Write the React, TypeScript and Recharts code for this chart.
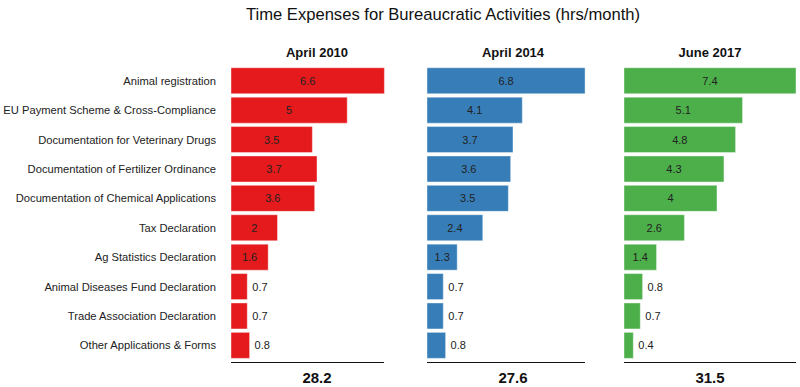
import React from 'react';
import { Bar, BarChart, LabelList, XAxis, YAxis } from 'recharts';

const categories = [
  'Animal registration',
  'EU Payment Scheme & Cross-Compliance',
  'Documentation for Veterinary Drugs',
  'Documentation of Fertilizer Ordinance',
  'Documentation of Chemical Applications',
  'Tax Declaration',
  'Ag Statistics Declaration',
  'Animal Diseases Fund Declaration',
  'Trade Association Declaration',
  'Other Applications & Forms'
];

const april2010 = [6.6, 5, 3.5, 3.7, 3.6, 2, 1.6, 0.7, 0.7, 0.8];
const april2014 = [6.8, 4.1, 3.7, 3.6, 3.5, 2.4, 1.3, 0.7, 0.7, 0.8];
const june2017 = [7.4, 5.1, 4.8, 4.3, 4, 2.6, 1.4, 0.8, 0.7, 0.4];

const panelTitles = ['April 2010', 'April 2014', 'June 2017'];
const panelSeries = [april2010, april2014, june2017];
const panelColors = ['#e41a1c', '#377eb8', '#4daf4a'];

const FONT = '"Liberation Sans", Arial, Helvetica, sans-serif';
const X_MAX = 7.4;
const PANEL_W = 172;
const LABEL_W = 231;
const PANEL_LEFT = [231, 427, 624];
const PLOT_TOP = 66;
const PLOT_H = 294;

function ValueLabel(props: any) {
  const { x, y, width, height, value } = props;
  const inside = value >= 1;
  return (
    <text
      x={inside ? x + width / 2 : x + width + 5}
      y={y + height / 2}
      textAnchor={inside ? 'middle' : 'start'}
      dominantBaseline="central"
      fontSize={11}
      fontFamily={FONT}
      fill="#222"
    >
      {value}
    </text>
  );
}

// plain text tick so long names stay on one line
function CategoryTick(props: any) {
  const { x, y, payload } = props;
  return (
    <text x={x} y={y} textAnchor="end" dominantBaseline="central" fontSize={11.2} fontFamily={FONT} fill="#222">
      {payload.value}
    </text>
  );
}

function Panel({ index }: { index: number }) {
  const values = panelSeries[index];
  const data = categories.map((category, i) => ({ category, value: values[i] }));
  const first = index === 0;
  const total = values.reduce((a, b) => a + b, 0);
  const max = Math.max(...values);
  const left = PANEL_LEFT[index];

  return (
    <>
      <div
        style={{
          position: 'absolute',
          left,
          width: PANEL_W,
          top: 45,
          textAlign: 'center',
          fontWeight: 'bold',
          fontSize: 13,
          color: '#111'
        }}
      >
        {panelTitles[index]}
      </div>
      <div style={{ position: 'absolute', left: first ? 0 : left, top: PLOT_TOP }}>
        <BarChart
          width={(first ? LABEL_W : 0) + PANEL_W}
          height={PLOT_H}
          data={data}
          layout="vertical"
          margin={{ top: 0, right: 0, bottom: 0, left: 0 }}
          barCategoryGap="6%"
        >
          <XAxis type="number" domain={[0, X_MAX]} hide />
          <YAxis
            type="category"
            dataKey="category"
            hide={!first}
            width={LABEL_W}
            axisLine={false}
            tickLine={false}
            tickSize={0}
            tickMargin={15}
            interval={0}
            tick={<CategoryTick />}
          />
          <Bar dataKey="value" fill={panelColors[index]} stroke="#ffffff" strokeOpacity={0.4} isAnimationActive={false}>
            <LabelList dataKey="value" content={ValueLabel} />
          </Bar>
        </BarChart>
      </div>
      <div
        style={{
          position: 'absolute',
          left,
          top: 362,
          width: (max / X_MAX) * PANEL_W,
          borderTop: '1.5px solid #111'
        }}
      />
      <div
        style={{
          position: 'absolute',
          left,
          width: PANEL_W,
          top: 369,
          textAlign: 'center',
          fontWeight: 'bold',
          fontSize: 15,
          color: '#111'
        }}
      >
        {total.toFixed(1)}
      </div>
    </>
  );
}

export default function App() {
  return (
    <div
      style={{
        position: 'absolute',
        left: 0,
        top: 0,
        width: 800,
        height: 387,
        background: '#fff',
        fontFamily: FONT,
        overflow: 'hidden'
      }}
    >
      <div
        style={{
          position: 'absolute',
          left: 193,
          width: 500,
          top: 5,
          textAlign: 'center',
          fontSize: 16.6,
          whiteSpace: 'nowrap',
          color: '#111'
        }}
      >
        Time Expenses for Bureaucratic Activities (hrs/month)
      </div>
      {panelTitles.map((_, i) => (
        <Panel key={i} index={i} />
      ))}
    </div>
  );
}
